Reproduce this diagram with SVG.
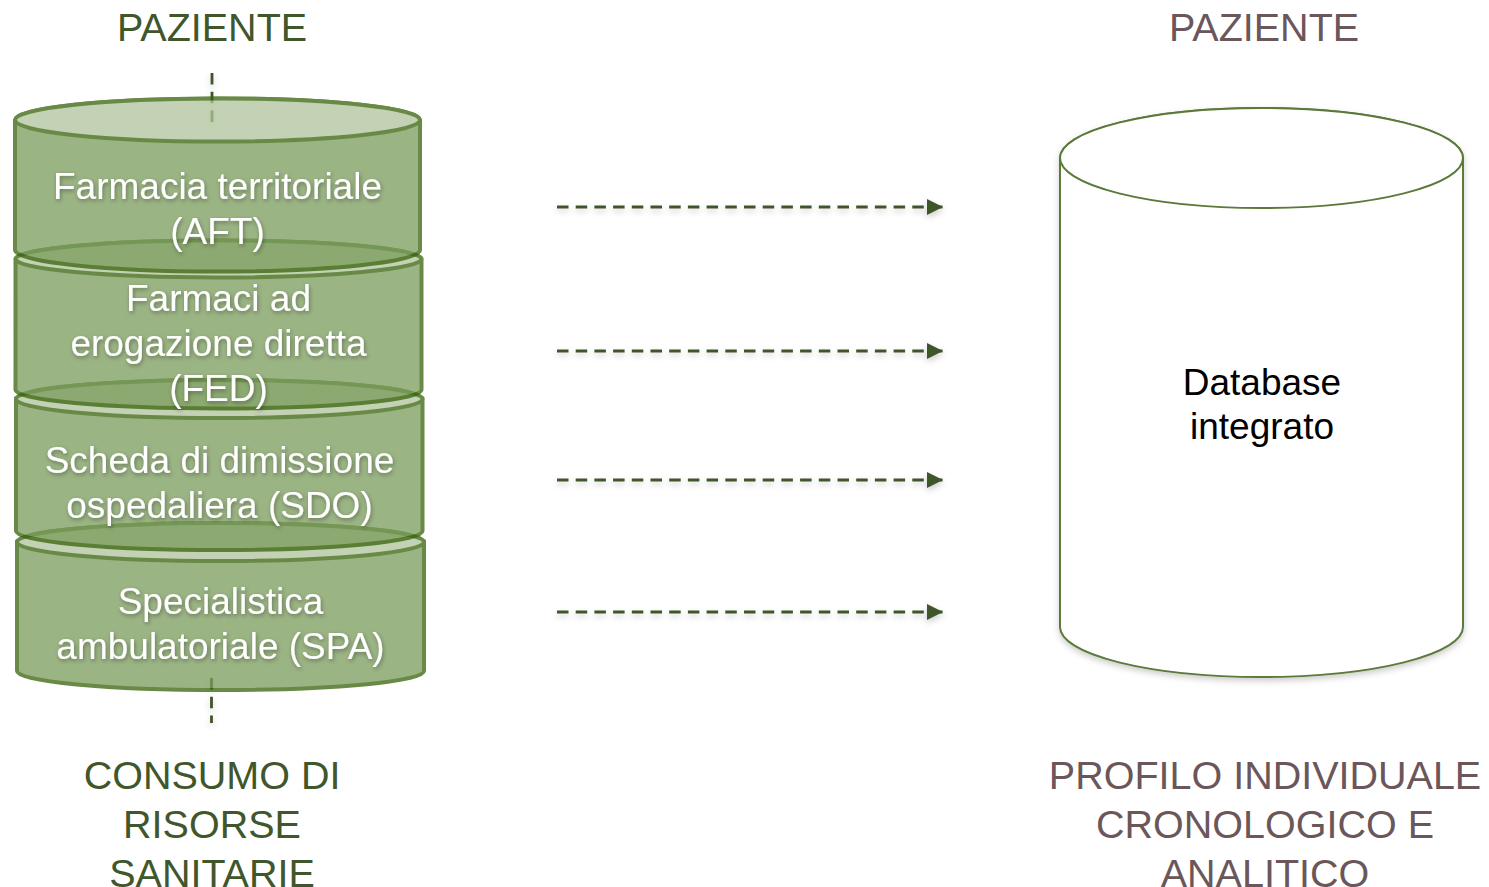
<svg xmlns="http://www.w3.org/2000/svg" width="1489" height="887" viewBox="0 0 1489 887">
<defs>
<style>
.lbl{font-family:"Liberation Sans",Arial,sans-serif;font-size:39.5px;text-anchor:middle}
.lg{fill:#40562b}
.lr{fill:#6b565a}
.cyl{opacity:0.75}
.body{fill:#7a9c5b;stroke:#38640a;stroke-width:4;stroke-linejoin:round}
.top{fill:#b0c49b;stroke:#38640a;stroke-width:4}
.ct{font-family:"Liberation Sans",Arial,sans-serif;font-size:37px;fill:#ffffff;text-anchor:middle}
.dash{stroke:#3f5429;stroke-width:2.8;stroke-dasharray:11.5 7.2;fill:none}
.db{fill:#ffffff;stroke:#5b7a3a;stroke-width:2}
.dbt{font-family:"Liberation Sans",Arial,sans-serif;font-size:37px;fill:#000000;text-anchor:middle}
</style>
<filter id="ts" x="-10%" y="-30%" width="120%" height="160%">
<feDropShadow dx="1" dy="2" stdDeviation="2" flood-color="#000" flood-opacity="0.35"/>
</filter>
<filter id="sh" x="-10%" y="-10%" width="120%" height="120%">
<feDropShadow dx="0" dy="3" stdDeviation="3" flood-color="#000" flood-opacity="0.2"/>
</filter>
<marker id="ah" markerWidth="16" markerHeight="16" refX="16" refY="8" viewBox="0 0 16 16" markerUnits="userSpaceOnUse" orient="auto">
<path d="M0,0 L16,8 L0,16 Z" fill="#3f5429"/>
</marker>
</defs>
<rect width="1489" height="887" fill="#ffffff"/>

<g id="connectors" filter="url(#sh)">
<line class="dash" x1="212" y1="73" x2="212" y2="122"/>
<line class="dash" x1="211.5" y1="678" x2="211.5" y2="723"/>
<line class="dash" x1="557" y1="207" x2="943" y2="207" marker-end="url(#ah)"/>
<line class="dash" x1="557" y1="351" x2="943" y2="351" marker-end="url(#ah)"/>
<line class="dash" x1="557" y1="480" x2="943" y2="480" marker-end="url(#ah)"/>
<line class="dash" x1="557" y1="612" x2="943" y2="612" marker-end="url(#ah)"/>
</g>

<g id="cyl-spa">
<g class="cyl">
<path class="body" d="M17,542 A203.5,19 0 0 1 424,542 L424,671 A203.5,19 0 0 1 17,671 Z"/>
<ellipse class="top" cx="220.5" cy="542" rx="203.5" ry="19"/>
</g>
</g>
<g id="cyl-sdo">
<g class="cyl">
<path class="body" d="M16,399 A203.25,19 0 0 1 422.5,399 L422.5,531 A203.25,19 0 0 1 16,531 Z"/>
<ellipse class="top" cx="219.25" cy="399" rx="203.25" ry="19"/>
</g>
</g>
<g id="cyl-fed">
<g class="cyl">
<path class="body" d="M15.5,259 A203,18.5 0 0 1 421.5,259 L421.5,390 A203,18.5 0 0 1 15.5,390 Z"/>
<ellipse class="top" cx="218.5" cy="259" rx="203" ry="18.5"/>
</g>
</g>
<g id="cyl-aft">
<g class="cyl">
<path class="body" d="M15,120 A202.5,21.5 0 0 1 420,120 L420,250 A202.5,21.5 0 0 1 15,250 Z"/>
<ellipse class="top" cx="217.5" cy="120" rx="202.5" ry="21.5"/>
</g>
</g>

<g id="cyl-texts" filter="url(#ts)">
<text class="ct" x="217.5" y="199">Farmacia territoriale</text>
<text class="ct" x="217.5" y="244">(AFT)</text>
<text class="ct" x="218.5" y="311">Farmaci ad</text>
<text class="ct" x="218.5" y="356">erogazione diretta</text>
<text class="ct" x="218.5" y="401">(FED)</text>
<text class="ct" x="219.5" y="473">Scheda di dimissione</text>
<text class="ct" x="219.5" y="518">ospedaliera (SDO)</text>
<text class="ct" x="220.5" y="614">Specialistica</text>
<text class="ct" x="220.5" y="659">ambulatoriale (SPA)</text>
</g>

<g id="label-paziente-left">
<text class="lbl lg" x="212" y="41">PAZIENTE</text>
</g>
<g id="label-consumo">
<text class="lbl lg" x="212" y="789">CONSUMO DI</text>
<text class="lbl lg" x="212" y="838">RISORSE</text>
<text class="lbl lg" x="212" y="887">SANITARIE</text>
</g>

<g id="database">
<g filter="url(#sh)">
<path class="db" d="M1060,158 A201.5,50 0 0 1 1463,158 L1463,627 A201.5,50 0 0 1 1060,627 Z"/>
</g>
<ellipse class="db" cx="1261.5" cy="158" rx="201.5" ry="50"/>
<text class="dbt" x="1262" y="395">Database</text>
<text class="dbt" x="1262" y="439">integrato</text>
</g>

<g id="connectors-right" filter="url(#sh)">
<line class="dash" x1="1267" y1="73" x2="1267" y2="121"/>
<line class="dash" x1="1267" y1="680" x2="1267" y2="718"/>
</g>

<g id="label-paziente-right">
<text class="lbl lr" x="1264" y="41">PAZIENTE</text>
</g>
<g id="label-profilo">
<text class="lbl lr" x="1265" y="789">PROFILO INDIVIDUALE</text>
<text class="lbl lr" x="1265" y="838">CRONOLOGICO E</text>
<text class="lbl lr" x="1265" y="887">ANALITICO</text>
</g>
</svg>
